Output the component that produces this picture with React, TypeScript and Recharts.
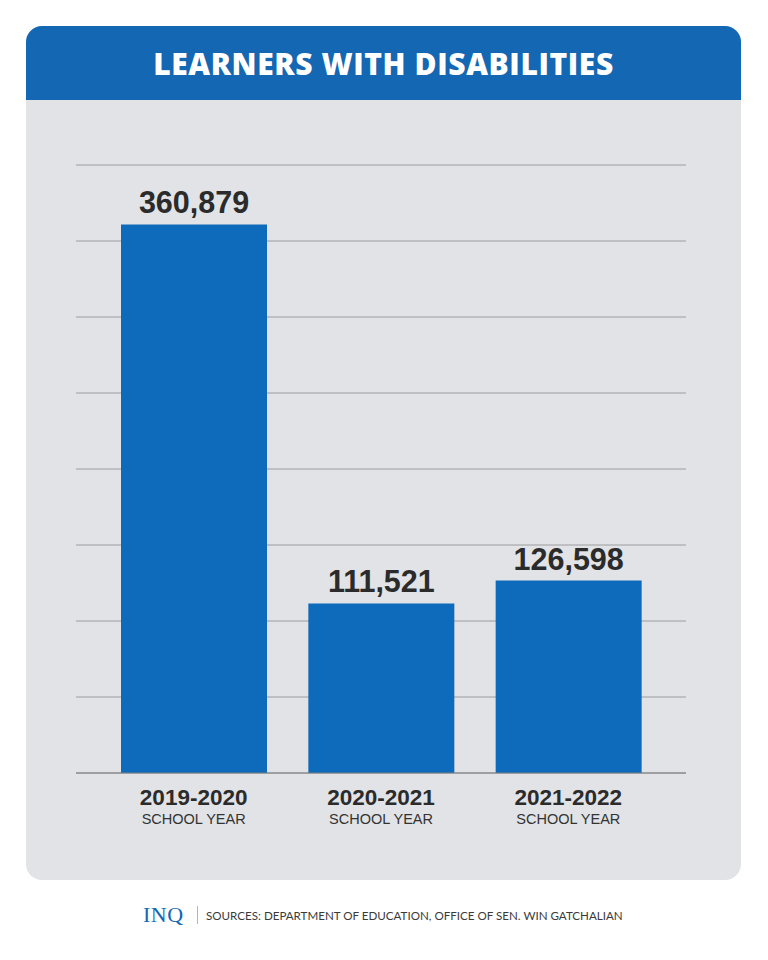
import React from "react";
import { Bar, BarChart, CartesianGrid, LabelList, XAxis, YAxis } from "recharts";

const years = ["2019-2020", "2020-2021", "2021-2022"];
const learners = [360879, 111521, 126598];
const yTicks = [0, 50000, 100000, 150000, 200000, 250000, 300000, 350000, 400000];

const data = years.map((year, i) => ({ year, learners: learners[i] }));

const BLUE = "#0e6aba";
const INK = "#2b2b2b";

const YearTick = (props: any) => {
  const { x, y, payload } = props;
  return (
    <g>
      <text
        x={x}
        y={y + 24}
        textAnchor="middle"
        fill={INK}
        fontFamily="'Liberation Sans', Arial, sans-serif"
        fontWeight={700}
        fontSize={22.5}
      >
        {payload.value}
      </text>
      <text
        x={x}
        y={y + 43}
        textAnchor="middle"
        fill="#333"
        fontFamily="'Liberation Sans', Arial, sans-serif"
        fontSize={14.5}
      >
        SCHOOL YEAR
      </text>
    </g>
  );
};

export default function App() {
  return (
    <div style={{ position: "absolute", left: 0, top: 0, width: 768, height: 960, background: "#fff" }}>
      <div
        style={{
          position: "absolute",
          left: 26,
          top: 26,
          width: 715,
          height: 854,
          background: "#e1e3e6",
          borderRadius: 16,
          overflow: "hidden",
        }}
      >
        <div
          style={{
            height: 74,
            background: "#1467b3",
            color: "#fff",
            display: "flex",
            alignItems: "center",
            justifyContent: "center",
            fontFamily: "'Open Sans', sans-serif",
            fontWeight: 800,
            fontSize: 30,
            letterSpacing: 0.6,
          }}
        >
          LEARNERS WITH DISABILITIES
        </div>
      </div>

      <div style={{ position: "absolute", left: 0, top: 0 }}>
        <BarChart
          width={768}
          height={960}
          data={data}
          margin={{ top: 165, right: 82, left: 76, bottom: 127 }}
        >
          <CartesianGrid vertical={false} stroke="#9b9c9e" strokeWidth={1} />
          <YAxis hide domain={[0, 400000]} ticks={yTicks} />
          <XAxis
            dataKey="year"
            height={60}
            tickLine={false}
            axisLine={{ stroke: "#7d7e80" }}
            padding={{ left: 24, right: 24 }}
            tick={<YearTick />}
            interval={0}
          />
          <Bar dataKey="learners" fill={BLUE} barSize={146} isAnimationActive={false}>
            <LabelList
              dataKey="learners"
              position="top"
              offset={11}
              formatter={(v: any) => Number(v).toLocaleString("en-US")}
              fill={INK}
              fontFamily="'Liberation Sans', Arial, sans-serif"
              fontWeight={700}
              fontSize={30.5}
            />
          </Bar>
        </BarChart>
      </div>

      <div
        style={{
          position: "absolute",
          top: 903,
          left: 143,
          display: "flex",
          alignItems: "center",
          height: 24,
        }}
      >
        <span
          style={{
            fontFamily: "'Liberation Serif', serif",
            color: "#1467b3",
            fontSize: 22,
            letterSpacing: 0.5,
            width: 44,
          }}
        >
          INQ
        </span>
        <span style={{ display: "inline-block", width: 1, height: 18, background: "#b5b5b5", margin: "0 8px 0 10px" }} />
        <span style={{ fontFamily: "Lato, sans-serif", color: "#3a3a3a", fontSize: 11.6 }}>
          SOURCES: DEPARTMENT OF EDUCATION, OFFICE OF SEN. WIN GATCHALIAN
        </span>
      </div>
    </div>
  );
}
